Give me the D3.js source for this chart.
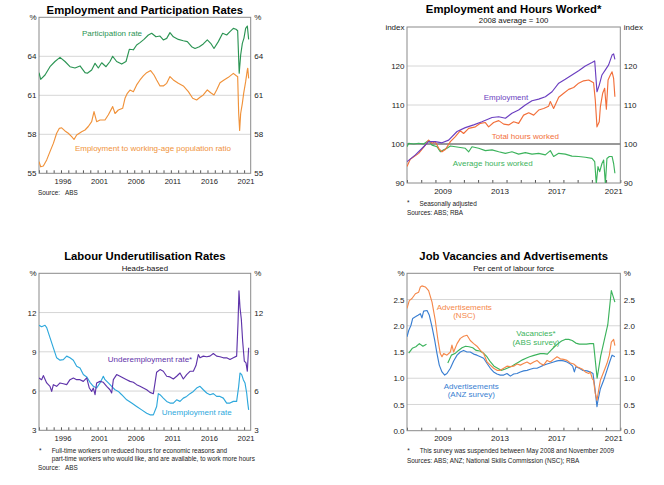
<!DOCTYPE html>
<html>
<head>
<meta charset="utf-8">
<script src="https://cdn.jsdelivr.net/npm/d3@7"></script>
<style>
  body { margin: 0; background: #fff; }
  svg { display: block; font-family: "Liberation Sans", Arial, sans-serif; }
  .note { white-space: pre; }
</style>
</head>
<body>
<script>
// ---- data: [decimal year, value] ----
var partRate = [[1993.00,62.74],[1993.23,62.23],[1993.82,62.56],[1994.50,63.2],[1995.18,63.6],[1995.87,63.92],[1996.55,63.6],[1997.23,63.2],[1997.91,63.1],[1998.60,63.26],[1999.28,62.74],[1999.60,62.7],[2000.19,62.95],[2000.65,63.46],[2001.10,63.1],[2001.56,63.5],[2002.15,63.2],[2002.69,63.6],[2003.06,64.0],[2003.60,63.6],[2004.29,63.4],[2004.88,63.6],[2005.33,64.54],[2005.88,64.5],[2006.33,64.87],[2006.79,65.05],[2007.33,65.3],[2007.93,65.64],[2008.38,65.77],[2008.97,65.5],[2009.52,65.56],[2009.97,65.26],[2010.43,65.38],[2010.88,65.82],[2011.34,65.5],[2012.02,65.3],[2012.70,65.2],[2013.25,65.13],[2013.84,64.74],[2014.30,64.6],[2014.89,64.74],[2015.43,64.95],[2015.98,65.26],[2016.44,65.0],[2016.89,64.6],[2017.48,65.13],[2018.07,65.77],[2018.62,65.64],[2019.07,65.9],[2019.53,66.15],[2019.89,66.08],[2020.12,65.97],[2020.33,62.7],[2020.53,64.1],[2020.76,65.0],[2020.98,65.4],[2021.21,66.15],[2021.44,66.33],[2021.62,65.3]];
var empPopRatio = [[1993.00,55.9],[1993.23,55.5],[1993.59,55.56],[1994.05,56.03],[1994.50,56.67],[1994.96,57.3],[1995.41,58.08],[1995.78,58.46],[1996.09,58.5],[1996.55,58.26],[1997.00,58.08],[1997.46,57.82],[1997.78,57.6],[1998.14,57.95],[1998.82,58.2],[1999.28,58.33],[1999.73,58.6],[2000.19,58.97],[2000.51,59.74],[2000.87,58.97],[2001.33,59.1],[2002.01,59.1],[2002.47,59.5],[2003.06,60.13],[2003.38,59.6],[2003.83,59.87],[2004.42,60.0],[2004.74,60.77],[2005.06,61.15],[2005.42,61.4],[2005.88,61.28],[2006.33,61.8],[2006.79,62.18],[2007.24,62.49],[2007.70,62.74],[2008.24,62.9],[2008.70,62.56],[2009.06,62.18],[2009.52,61.72],[2009.97,61.72],[2010.43,61.92],[2010.88,62.44],[2011.34,62.18],[2012.02,61.92],[2012.70,61.72],[2013.39,61.28],[2013.98,60.77],[2014.52,60.64],[2014.98,60.85],[2015.43,61.03],[2015.98,61.41],[2016.44,61.2],[2016.89,61.03],[2017.25,61.41],[2017.71,61.97],[2018.26,62.18],[2018.85,62.38],[2019.53,62.69],[2019.98,62.49],[2020.12,62.44],[2020.26,59.6],[2020.39,58.3],[2020.53,59.6],[2020.76,60.38],[2020.94,61.15],[2021.21,62.05],[2021.44,62.95],[2021.50,63.08],[2021.62,62.3]];

var employment = [[2007.00,95.47],[2007.59,97.2],[2008.17,99.3],[2008.52,100.6],[2008.99,100.6],[2009.46,100.3],[2009.93,101.0],[2010.52,103.2],[2011.10,104.2],[2011.69,104.9],[2012.27,105.7],[2012.98,106.8],[2013.45,107.0],[2013.92,106.6],[2014.38,107.9],[2014.85,108.7],[2015.32,110.0],[2015.79,111.1],[2016.26,111.5],[2016.73,112.1],[2017.20,113.4],[2017.67,115.6],[2018.13,116.6],[2018.60,117.7],[2019.07,118.8],[2019.54,120.0],[2020.01,120.9],[2020.20,121.3],[2020.36,113.4],[2020.52,115.1],[2020.71,117.7],[2020.95,119.0],[2021.18,120.3],[2021.42,122.8],[2021.53,123.1],[2021.62,121.7]];
var totalHours = [[2007.00,94.2],[2007.23,96.1],[2007.82,97.6],[2008.29,99.7],[2008.52,101.0],[2008.76,100.2],[2008.99,100.6],[2009.23,98.9],[2009.46,98.0],[2009.70,98.6],[2010.05,100.6],[2010.40,101.9],[2010.75,103.4],[2010.98,102.7],[2011.34,104.0],[2011.81,104.4],[2012.16,105.3],[2012.51,105.5],[2012.74,104.4],[2013.09,105.5],[2013.45,106.0],[2013.80,105.1],[2014.15,104.9],[2014.50,105.7],[2014.85,105.3],[2015.20,107.4],[2015.56,108.0],[2015.91,107.4],[2016.26,108.7],[2016.61,109.1],[2016.96,109.7],[2017.08,110.9],[2017.31,109.1],[2017.67,112.0],[2018.02,113.0],[2018.37,114.0],[2018.72,114.5],[2019.07,115.6],[2019.42,116.2],[2019.78,116.4],[2020.12,115.7],[2020.24,111.3],[2020.36,104.4],[2020.52,105.7],[2020.60,109.6],[2020.76,113.0],[2020.90,114.3],[2021.02,108.9],[2021.14,116.4],[2021.30,117.7],[2021.42,118.5],[2021.53,116.8],[2021.62,112.1]];
var avgHours = [[2007.00,99.3],[2007.12,100.2],[2007.47,100.0],[2007.82,100.2],[2008.17,100.0],[2008.52,100.9],[2008.76,99.7],[2009.11,99.3],[2009.34,98.0],[2009.58,98.5],[2009.81,98.9],[2010.05,99.5],[2010.40,99.3],[2010.75,99.1],[2011.10,98.9],[2011.34,98.0],[2011.57,99.3],[2012.04,98.9],[2012.51,98.3],[2012.98,98.5],[2013.45,98.0],[2013.92,97.6],[2014.38,98.0],[2014.85,97.4],[2015.32,97.8],[2015.79,97.4],[2016.26,97.6],[2016.73,97.2],[2017.08,98.3],[2017.31,96.8],[2017.67,97.6],[2018.13,97.4],[2018.60,96.9],[2019.07,96.8],[2019.54,96.6],[2020.01,96.3],[2020.20,95.5],[2020.31,89.8],[2020.43,94.2],[2020.55,92.9],[2020.71,95.0],[2020.83,95.9],[2020.95,89.8],[2021.06,96.3],[2021.23,96.8],[2021.42,96.8],[2021.53,95.0],[2021.62,92.5]];

var unemployment = [[1993.00,11.03],[1993.36,10.92],[1993.82,11.03],[1994.05,10.85],[1994.50,10.08],[1994.96,9.3],[1995.41,8.54],[1995.87,8.36],[1996.32,8.4],[1996.78,8.67],[1997.23,8.54],[1997.69,8.36],[1998.14,7.9],[1998.60,7.77],[1999.05,7.26],[1999.51,7.08],[1999.96,6.67],[2000.42,6.36],[2000.87,6.23],[2001.33,6.62],[2001.78,7.13],[2002.01,6.87],[2002.47,6.62],[2002.92,6.36],[2003.38,6.1],[2003.83,5.97],[2004.29,5.72],[2004.97,5.33],[2005.65,5.08],[2006.33,4.82],[2007.02,4.56],[2007.70,4.31],[2008.15,4.18],[2008.61,4.18],[2009.06,4.82],[2009.29,5.8],[2009.52,5.72],[2009.97,5.46],[2010.43,5.21],[2010.88,5.08],[2011.34,5.08],[2011.79,5.33],[2012.25,5.21],[2012.70,5.46],[2013.16,5.59],[2013.61,5.8],[2014.07,5.97],[2014.52,6.23],[2014.98,6.36],[2015.43,6.1],[2015.89,5.85],[2016.34,5.72],[2016.80,5.8],[2017.25,5.59],[2017.71,5.59],[2018.16,5.46],[2018.62,5.08],[2019.07,5.08],[2019.53,5.21],[2019.98,5.21],[2020.26,6.36],[2020.44,7.38],[2020.67,7.26],[2020.89,6.87],[2021.12,6.62],[2021.35,5.85],[2021.50,5.08],[2021.62,4.56]];
var underemployment = [[1993.00,7.0],[1993.36,6.87],[1993.59,7.18],[1994.05,6.62],[1994.50,6.36],[1994.73,5.97],[1994.96,6.49],[1995.41,6.36],[1995.87,6.62],[1996.32,6.56],[1996.78,6.49],[1997.23,6.87],[1997.69,7.0],[1998.14,6.87],[1998.60,6.87],[1999.05,6.74],[1999.51,7.0],[1999.87,6.23],[2000.19,5.97],[2000.42,6.23],[2000.65,5.72],[2000.87,6.62],[2001.33,6.74],[2001.78,6.67],[2002.24,6.36],[2002.69,6.1],[2002.92,5.85],[2003.15,6.87],[2003.60,7.26],[2004.06,7.13],[2004.51,7.0],[2004.97,6.87],[2005.42,6.74],[2005.88,6.67],[2006.33,6.49],[2006.79,6.36],[2007.24,6.23],[2007.70,6.1],[2008.15,5.9],[2008.61,5.8],[2008.84,6.62],[2009.06,7.44],[2009.52,7.64],[2009.97,7.51],[2010.43,7.13],[2010.88,7.08],[2011.34,6.92],[2011.79,7.13],[2012.25,7.38],[2012.70,6.92],[2013.16,7.26],[2013.61,7.51],[2014.07,7.51],[2014.43,7.95],[2014.75,8.79],[2014.98,8.54],[2015.43,8.67],[2015.89,8.62],[2016.34,8.67],[2016.80,8.87],[2017.25,8.67],[2017.71,8.62],[2018.16,8.54],[2018.62,8.54],[2019.07,8.41],[2019.53,8.54],[2019.98,8.67],[2020.17,11.23],[2020.30,13.67],[2020.44,12.38],[2020.62,11.49],[2020.80,9.82],[2021.03,8.28],[2021.26,8.15],[2021.44,7.51],[2021.50,8.15],[2021.62,9.31]];

var adsNSC = [[2007.00,2.33],[2007.16,2.48],[2007.35,2.52],[2007.59,2.61],[2007.82,2.64],[2007.94,2.74],[2008.05,2.76],[2008.29,2.74],[2008.52,2.67],[2008.76,2.45],[2008.99,2.1],[2009.18,1.72],[2009.34,1.47],[2009.46,1.41],[2009.58,1.47],[2009.81,1.44],[2010.05,1.5],[2010.16,1.63],[2010.28,1.5],[2010.52,1.66],[2010.75,1.76],[2010.98,1.8],[2011.22,1.82],[2011.45,1.72],[2011.69,1.66],[2011.92,1.61],[2012.16,1.53],[2012.39,1.47],[2012.63,1.31],[2012.86,1.25],[2013.09,1.19],[2013.33,1.15],[2013.56,1.15],[2013.80,1.19],[2014.03,1.23],[2014.27,1.22],[2014.50,1.23],[2014.74,1.27],[2014.97,1.25],[2015.20,1.28],[2015.44,1.31],[2015.67,1.27],[2015.91,1.31],[2016.14,1.34],[2016.38,1.28],[2016.61,1.25],[2016.85,1.34],[2017.08,1.31],[2017.31,1.36],[2017.55,1.41],[2017.78,1.37],[2018.02,1.36],[2018.25,1.34],[2018.49,1.29],[2018.72,1.27],[2018.95,1.22],[2019.19,1.19],[2019.35,1.17],[2019.54,1.12],[2019.78,1.09],[2019.89,1.12],[2020.03,0.99],[2020.12,0.96],[2020.24,0.71],[2020.36,0.58],[2020.52,0.84],[2020.60,0.96],[2020.83,1.12],[2021.06,1.28],[2021.23,1.44],[2021.37,1.69],[2021.53,1.74],[2021.62,1.62]];
var adsANZ = [[2007.00,1.79],[2007.12,1.91],[2007.28,2.01],[2007.40,2.14],[2007.59,2.17],[2007.77,2.2],[2007.94,2.23],[2008.05,2.15],[2008.17,2.28],[2008.41,2.29],[2008.57,2.2],[2008.76,1.98],[2008.95,1.72],[2009.11,1.47],[2009.27,1.25],[2009.46,1.12],[2009.65,1.06],[2009.81,1.09],[2010.05,1.19],[2010.28,1.33],[2010.52,1.44],[2010.75,1.5],[2010.98,1.53],[2011.22,1.5],[2011.45,1.5],[2011.69,1.46],[2011.92,1.44],[2012.16,1.41],[2012.39,1.38],[2012.63,1.28],[2012.86,1.19],[2013.09,1.12],[2013.33,1.08],[2013.56,1.06],[2013.80,1.06],[2014.03,1.09],[2014.27,1.04],[2014.50,1.08],[2014.74,1.09],[2014.97,1.12],[2015.20,1.14],[2015.44,1.15],[2015.67,1.17],[2015.91,1.19],[2016.14,1.19],[2016.38,1.22],[2016.61,1.25],[2016.85,1.27],[2017.08,1.29],[2017.31,1.31],[2017.55,1.33],[2017.78,1.34],[2018.02,1.33],[2018.25,1.31],[2018.49,1.27],[2018.65,1.23],[2018.77,1.12],[2018.88,1.22],[2019.12,1.19],[2019.35,1.15],[2019.66,1.14],[2019.89,1.12],[2020.08,1.09],[2020.20,0.84],[2020.36,0.46],[2020.43,0.58],[2020.60,0.8],[2020.83,0.96],[2021.06,1.15],[2021.25,1.31],[2021.42,1.44],[2021.62,1.41]];
var vacanciesPre = [[2007.12,1.48],[2007.37,1.57],[2007.62,1.6],[2007.87,1.66],[2008.12,1.61],[2008.37,1.65]];
var vacanciesPost = [[2009.87,1.29],[2010.12,1.44],[2010.37,1.47],[2010.62,1.53],[2010.87,1.58],[2011.12,1.61],[2011.37,1.6],[2011.62,1.58],[2011.87,1.53],[2012.12,1.52],[2012.37,1.48],[2012.62,1.41],[2012.87,1.31],[2013.12,1.23],[2013.37,1.19],[2013.62,1.15],[2013.87,1.17],[2014.12,1.2],[2014.37,1.23],[2014.62,1.27],[2014.87,1.31],[2015.12,1.35],[2015.37,1.38],[2015.62,1.41],[2015.87,1.43],[2016.12,1.45],[2016.37,1.47],[2016.62,1.47],[2016.87,1.46],[2017.12,1.53],[2017.37,1.6],[2017.62,1.66],[2017.87,1.71],[2018.12,1.74],[2018.37,1.74],[2018.62,1.72],[2018.87,1.67],[2019.12,1.65],[2019.37,1.65],[2019.62,1.65],[2019.87,1.66],[2020.12,1.66],[2020.37,1.0],[2020.62,1.42],[2020.87,1.72],[2021.12,2.02],[2021.37,2.67],[2021.62,2.45]];

// tick labels
var longYears = [1996, 2001, 2006, 2011, 2016, 2021];
var shortYears = [2009, 2013, 2017, 2021];
var ticksP1 = [55, 58, 61, 64];
var ticksP2 = [90, 100, 110, 120];
var ticksP3 = [3, 6, 9, 12];
var ticksP4 = [0, 0.5, 1, 1.5, 2, 2.5];

var w = 664, h = 485;
var svg = d3.select('body').append('svg').attr('width', w).attr('height', h);

var clipId = 0;
function panel(cfg){
  var x = d3.scaleLinear().domain(cfg.xDomain).range([cfg.left, cfg.right]);
  var y = d3.scaleLinear().domain(cfg.yDomain).range([cfg.bottom, cfg.top]);
  var g = svg.append('g');
  var top = cfg.yDomain[1];

  // title + subtitle
  var cx = (cfg.left + cfg.right) / 2;
  g.append('text').attr('x', cx).attr('y', cfg.titleY).attr('text-anchor', 'middle')
   .style('font-size', '11.3px').style('font-weight', 'bold').attr('fill', '#000').text(cfg.title);
  if (cfg.subtitle) {
    g.append('text').attr('x', cx).attr('y', cfg.titleY + 10.5).attr('text-anchor', 'middle')
     .style('font-size', '7.8px').attr('fill', '#111').text(cfg.subtitle);
  }

  // gridlines
  g.selectAll('line.grid').data(cfg.yTicks.filter(function(d){ return d !== cfg.yDomain[0]; }))
   .enter().append('line')
   .attr('x1', cfg.left).attr('x2', cfg.right)
   .attr('y1', function(d){ return y(d); }).attr('y2', function(d){ return y(d); })
   .attr('stroke', function(d){ return d === cfg.baseline ? '#333' : '#d6d6d6'; })
   .attr('stroke-width', 1);

  // y axes both sides
  var fmt = cfg.fmt || function(d){ return d; };
  var yVals = cfg.yTicks.concat([top]);
  var tf = function(d){ return d === top ? cfg.unit : fmt(d); };
  var yl = g.append('g').attr('transform', 'translate(' + cfg.left + ',0)')
    .call(d3.axisLeft(y).tickValues(yVals).tickFormat(tf).tickSize(0).tickPadding(2.5));
  var yr = g.append('g').attr('transform', 'translate(' + cfg.right + ',0)')
    .call(d3.axisRight(y).tickValues(yVals).tickFormat(tf).tickSize(0).tickPadding(3.5));
  [yl, yr].forEach(function(a){
    a.select('.domain').remove();
    a.selectAll('text').style('font-size', '8px').attr('fill', '#222').style('font-family', '"Liberation Sans", Arial, sans-serif');
  });

  // x axis: small year ticks + year labels
  var yrs = d3.range(Math.ceil(cfg.xDomain[0]), Math.floor(cfg.xDomain[1]) + 1);
  var xt = g.append('g').attr('transform', 'translate(0,' + cfg.bottom + ')')
    .call(d3.axisBottom(x).tickValues(yrs).tickSize(-3).tickFormat(''));
  xt.select('.domain').remove();
  xt.selectAll('line').attr('stroke', '#555');
  var xl = g.append('g').attr('transform', 'translate(0,' + cfg.bottom + ')')
    .call(d3.axisBottom(x).tickValues(cfg.xLabels.map(function(d){ return d + cfg.labelShift; }))
      .tickFormat(function(d){ return Math.floor(d); }).tickSize(0).tickPadding(5));
  xl.select('.domain').remove();
  xl.selectAll('text').style('font-size', cfg.xFont).attr('fill', '#222').style('font-family', '"Liberation Sans", Arial, sans-serif');

  // frame
  g.append('rect').attr('x', cfg.left).attr('y', cfg.top)
   .attr('width', cfg.right - cfg.left).attr('height', cfg.bottom - cfg.top)
   .attr('fill', 'none').attr('stroke', '#8a8a8a').attr('stroke-width', 1);

  // series
  clipId++;
  svg.append('clipPath').attr('id', 'clip' + clipId).append('rect')
    .attr('x', cfg.left).attr('y', cfg.top).attr('width', cfg.right - cfg.left).attr('height', cfg.bottom - cfg.top);
  var line = d3.line().x(function(d){ return x(d[0]); }).y(function(d){ return y(d[1]); });
  var sg = g.append('g').attr('clip-path', 'url(#clip' + clipId + ')');
  cfg.series.forEach(function(s){
    sg.append('path').datum(s.data).attr('d', line)
      .attr('fill', 'none').attr('stroke', s.color).attr('stroke-width', 1.15).attr('stroke-linejoin', 'round');
  });

  // series labels (placed in data coordinates)
  cfg.labels.forEach(function(l){
    g.append('text').attr('x', x(l.at[0])).attr('y', y(l.at[1])).attr('text-anchor', 'middle')
     .style('font-size', '8px').attr('fill', l.color).text(l.text);
  });

  // footnotes
  (cfg.notes || []).forEach(function(n){
    g.append('text').attr('class', 'note').attr('x', n.x).attr('y', n.y)
     .style('font-size', '6.4px').attr('fill', '#222').text(n.text);
  });
}

var green1 = '#2b9453', orange1 = '#f0923a';
panel({
  title: 'Employment and Participation Rates', titleY: 13.5,
  left: 39, right: 250.7, top: 17.3, bottom: 173.3,
  xDomain: [1993, 2021.9], yDomain: [55, 67], yTicks: ticksP1, unit: '%', xLabels: longYears,
  labelShift: 0.2, xFont: '7.6px',
  series: [{ data: partRate, color: green1 }, { data: empPopRatio, color: orange1 }],
  labels: [
    { text: 'Participation rate', at: [2002.97, 65.56], color: green1 },
    { text: 'Employment to working-age population ratio', at: [2008.56, 56.72], color: orange1 }
  ],
  notes: [{ x: 38, y: 195, text: 'Source:   ABS' }]
});

panel({
  title: 'Employment and Hours Worked*', subtitle: '2008 average = 100', titleY: 12.7,
  left: 407, right: 620.3, top: 27, bottom: 183,
  xDomain: [2007, 2022], yDomain: [90, 130], yTicks: ticksP2, unit: 'index', xLabels: shortYears,
  labelShift: 0.5, xFont: '8px',
  baseline: 100,
  series: [{ data: avgHours, color: '#3cb35c' }, { data: totalHours, color: '#f26f3a' }, { data: employment, color: '#6b3fc0' }],
  labels: [
    { text: 'Employment', at: [2013.96, 111.28], color: '#6b3fc0' },
    { text: 'Total hours worked', at: [2015.32, 101.28], color: '#f26f3a' },
    { text: 'Average hours worked', at: [2013.03, 94.36], color: '#3cb35c' }
  ],
  notes: [
    { x: 407, y: 205, text: '*' },
    { x: 419.5, y: 205.5, text: 'Seasonally adjusted' },
    { x: 407, y: 215, text: 'Sources: ABS; RBA' }
  ]
});

panel({
  title: 'Labour Underutilisation Rates', subtitle: 'Heads-based', titleY: 260,
  left: 39, right: 250.7, top: 273.3, bottom: 430.3,
  xDomain: [1993, 2021.9], yDomain: [3, 15], yTicks: ticksP3, unit: '%', xLabels: longYears,
  labelShift: 0.2, xFont: '7.6px',
  series: [{ data: unemployment, color: '#2ea8dc' }, { data: underemployment, color: '#5f34aa' }],
  labels: [
    { text: 'Underemployment rate*', at: [2008.15, 8.25], color: '#5f34aa' },
    { text: 'Unemployment rate', at: [2014.53, 4.14], color: '#2ea8dc' }
  ],
  notes: [
    { x: 39, y: 452.5, text: '*' },
    { x: 51.7, y: 453, text: 'Full-time workers on reduced hours for economic reasons and' },
    { x: 51.7, y: 460.6, text: 'part-time workers who would like, and are available, to work more hours' },
    { x: 38, y: 469.5, text: 'Source:   ABS' }
  ]
});

panel({
  title: 'Job Vacancies and Advertisements', subtitle: 'Per cent of labour force', titleY: 260,
  left: 407, right: 620.3, top: 273.3, bottom: 430.7,
  xDomain: [2007, 2022], yDomain: [0, 3], yTicks: ticksP4, unit: '%', xLabels: shortYears,
  labelShift: 0.5, xFont: '8px',
  fmt: d3.format('.1f'),
  series: [{ data: vacanciesPre, color: '#3cb35c' }, { data: vacanciesPost, color: '#3cb35c' },
           { data: adsANZ, color: '#3a7fd2' }, { data: adsNSC, color: '#f5884a' }],
  labels: [
    { text: 'Advertisements', at: [2011.03, 2.30], color: '#f5884a' },
    { text: '(NSC)', at: [2011.03, 2.14], color: '#f5884a' },
    { text: 'Vacancies*', at: [2016.07, 1.80], color: '#3cb35c' },
    { text: '(ABS survey)', at: [2016.07, 1.64], color: '#3cb35c' },
    { text: 'Advertisements', at: [2011.52, 0.79], color: '#3a7fd2' },
    { text: '(ANZ survey)', at: [2011.52, 0.635], color: '#3a7fd2' }
  ],
  notes: [
    { x: 407.3, y: 452.5, text: '*' },
    { x: 419.7, y: 453.3, text: 'This survey was suspended between May 2008 and November 2009' },
    { x: 407, y: 463, text: 'Sources: ABS; ANZ; National Skills Commission (NSC); RBA' }
  ]
});
</script>
</body>
</html>
